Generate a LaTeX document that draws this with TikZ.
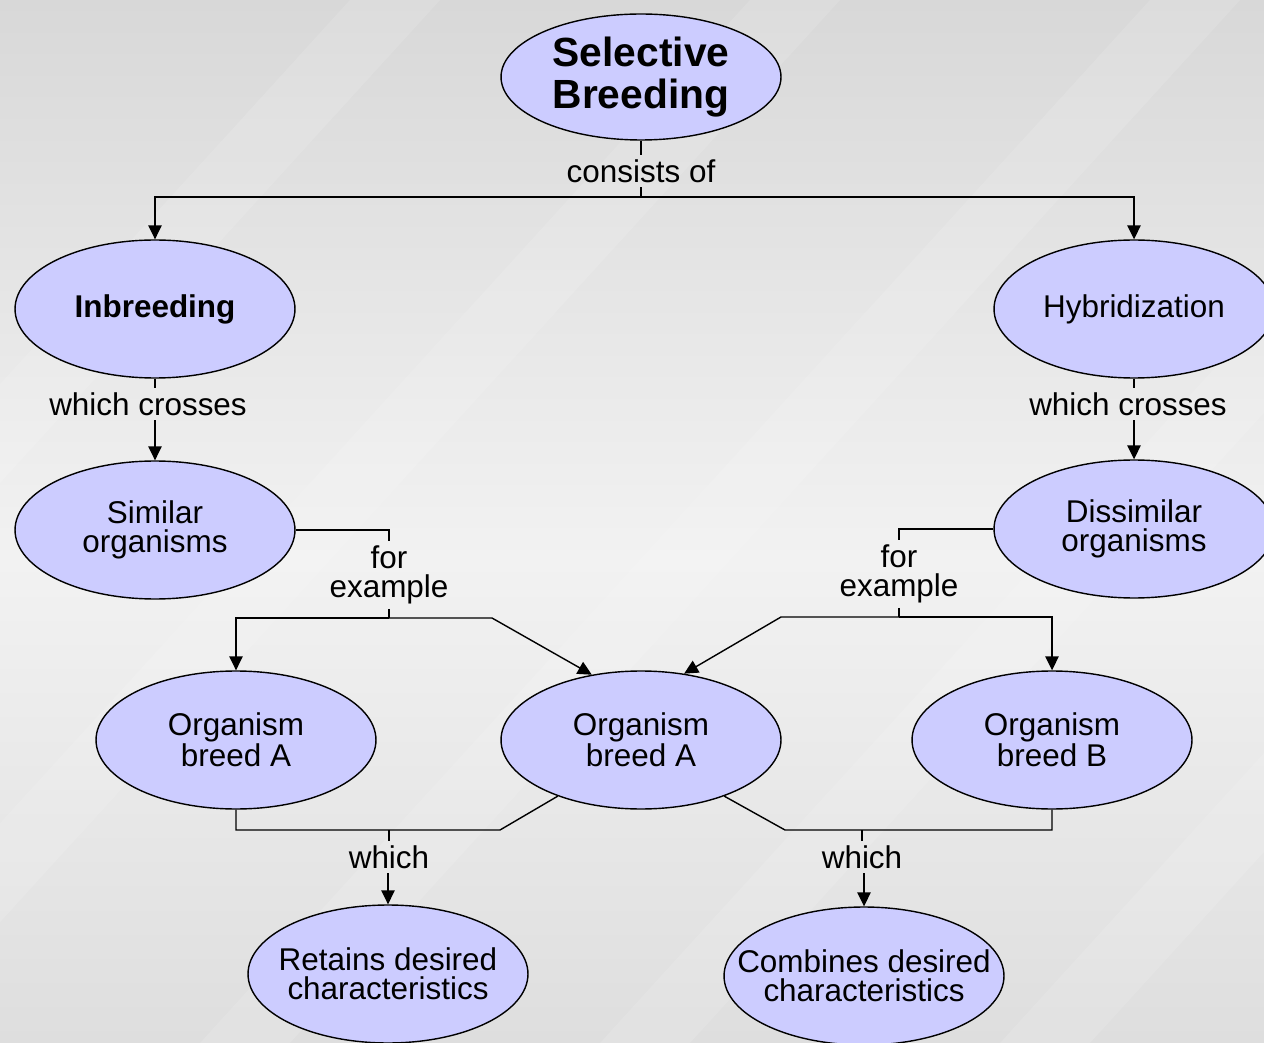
\documentclass[tikz,border=0pt]{standalone}
\usepackage{fontspec}
\setmainfont{Liberation Sans}
\usetikzlibrary{shapes.geometric,arrows.meta}
\definecolor{nodefill}{HTML}{CCCCFF}
\definecolor{bgtop}{HTML}{D8D8D8}
\definecolor{bgmid}{HTML}{F2F2F2}
\definecolor{bgbot}{HTML}{DEDEDE}
\tikzset{
  concept/.style={ellipse, draw=black, line width=0.8pt, fill=nodefill,
    minimum width=5.6cm, minimum height=2.76cm, inner sep=0pt, align=center,
    font=\fontsize{17.9pt}{16.6pt}\selectfont},
  widetext/.style={inner xsep=-0.75cm},
  linklabel/.style={inner sep=2.5pt, align=center,
    font=\fontsize{17.9pt}{16.6pt}\selectfont},
  conn/.style={line width=0.8pt, black},
  arr/.style={conn, -{Triangle[length=0.28cm,width=0.27cm]}}
}
\begin{document}
\begin{tikzpicture}[x=0.02cm,y=-0.02cm]
\useasboundingbox (0,0) rectangle (1264,1043);
\clip (0,0) rectangle (1264,1043);
% background
\shade[top color=bgtop, bottom color=bgmid] (0,0) rectangle (1264,560);
\fill[bgmid] (0,559) rectangle (1264,561);
\shade[top color=bgmid, bottom color=bgbot] (0,560) rectangle (1264,1043);
\foreach \s in {-600,-200,200,600,1000,1400}{
  \fill[white, opacity=0.12] (\s,1043) -- (\s+90,1043) -- (\s+1040,0) -- (\s+950,0) -- cycle;
}
% nodes
\node[concept, minimum height=2.52cm, font=\fontsize{23.2pt}{24.4pt}\selectfont\bfseries] (sb) at (641,77) {Selective\\Breeding};
\node[concept, font=\fontsize{17.9pt}{16.6pt}\selectfont\bfseries] (inb) at (155,309) {Inbreeding};
\node[concept] (hyb) at (1134,309) {Hybridization};
\node[concept] (sim) at (155,530) {Similar\\organisms};
\node[concept] (dis) at (1134,529) {Dissimilar\\organisms};
\node[concept] (oa1) at (236,740) {Organism\\breed A};
\node[concept] (oa2) at (641,740) {Organism\\breed A};
\node[concept] (ob) at (1052,740) {Organism\\breed B};
\node[concept, widetext] (ret) at (388,974) {Retains desired\\characteristics};
\node[concept, widetext] (comb) at (864,976) {Combines desired\\characteristics};
% link labels
\node[linklabel] (cons) at (641,171) {consists of};
\node[linklabel] (wc1) at (148,404) {which crosses};
\node[linklabel] (wc2) at (1128,404) {which crosses};
\node[linklabel] (fe1) at (389,575) {for\\example};
\node[linklabel] (fe2) at (899,574) {for\\example};
\node[linklabel] (wh1) at (389,857) {which};
\node[linklabel] (wh2) at (862,857) {which};
% junction coordinates
\coordinate (j1) at (641,197);
\coordinate (j2) at (389,618);
\coordinate (k1) at (492,618);
\coordinate (j5) at (899,617);
\coordinate (k2) at (781,617);
\coordinate (j3) at (389,830);
\coordinate (l1) at (500,830);
\coordinate (j4) at (862,830);
\coordinate (r1) at (785,830);
% connectors
\draw[conn] (sb.south) -- (cons.north);
\draw[conn] (cons.south) -- (j1);
\draw[arr] (j1) -| (inb.north);
\draw[arr] (j1) -| (hyb.north);
\draw[conn] (inb.south) -- (inb.south |- wc1.north);
\draw[arr] (sim.north |- wc1.south) -- (sim.north);
\draw[conn] (hyb.south) -- (hyb.south |- wc2.north);
\draw[arr] (dis.north |- wc2.south) -- (dis.north);
\draw[conn] (sim.east) -| (fe1.north);
\draw[conn] (fe1.south) -- (j2);
\draw[arr] (j2) -| (oa1.north);
\draw[arr] (j2) -- (k1) -- (oa2.127);
\draw[conn] (dis.west) -| (fe2.north);
\draw[conn] (fe2.south) -- (j5);
\draw[arr] (j5) -| (ob.north);
\draw[arr] (j5) -- (k2) -- (oa2.57);
\draw[conn] (oa1.south) |- (j3) -- (l1) -- (oa2.214);
\draw[conn] (j3) -- (wh1.north);
\draw[arr] (wh1.south -| ret.north) -- (ret.north);
\draw[conn] (oa2.326) -- (r1) -- (j4) -| (ob.south);
\draw[conn] (j4) -- (wh2.north);
\draw[arr] (wh2.south -| comb.north) -- (comb.north);
\end{tikzpicture}
\end{document}
